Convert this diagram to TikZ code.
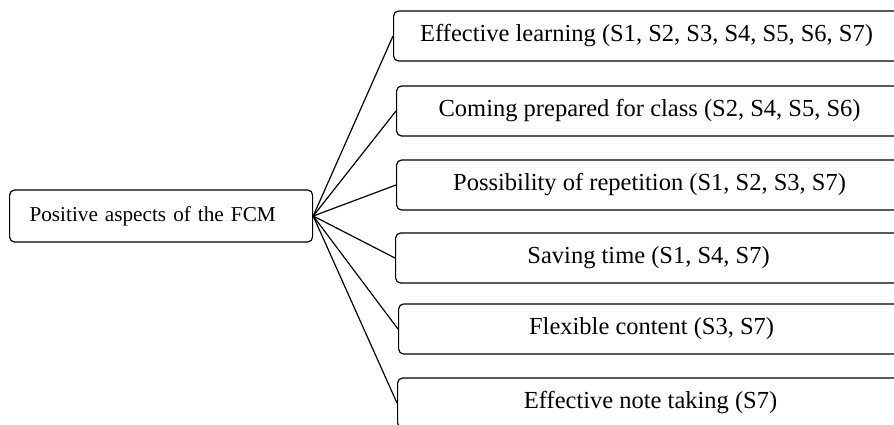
\documentclass[tikz,border=0pt]{standalone}
\usepackage{fontspec}
\setmainfont{Liberation Serif}

\begin{document}
\begin{tikzpicture}[x=1pt,y=-1pt,
  box/.style={draw,line width=1.2pt,rounded corners=5pt,minimum height=50pt,inner sep=0pt},
  aspect/.style={box,minimum width=506pt,anchor=west,font=\fontsize{24.5}{28}\selectfont},
  link/.style={line width=1.2pt}]
\useasboundingbox (0,0) rectangle (894,424);
\clip (0,0) rectangle (894,424);
\node[box,anchor=west,minimum height=52pt,inner xsep=20pt,text width=263pt,align=left,
  font=\fontsize{21.2}{25}\selectfont] (fcm) at (9,216) {Positive aspects of the FCM};
\node[aspect] (a1) at (393,36) {Effective learning (S1, S2, S3, S4, S5, S6, S7)};
\node[aspect] (a2) at (396,111) {Coming prepared for class (S2, S4, S5, S6)};
\node[aspect] (a3) at (396,185) {Possibility of repetition (S1, S2, S3, S7)};
\node[aspect] (a4) at (395,258) {Saving time (S1, S4, S7)};
\node[aspect] (a5) at (398,329) {Flexible content (S3, S7)};
\node[aspect] (a6) at (397,403) {Effective note taking (S7)};
\foreach \n in {1,...,6}
  \draw[link] (fcm.east) -- (a\n.west);
\end{tikzpicture}
\end{document}
